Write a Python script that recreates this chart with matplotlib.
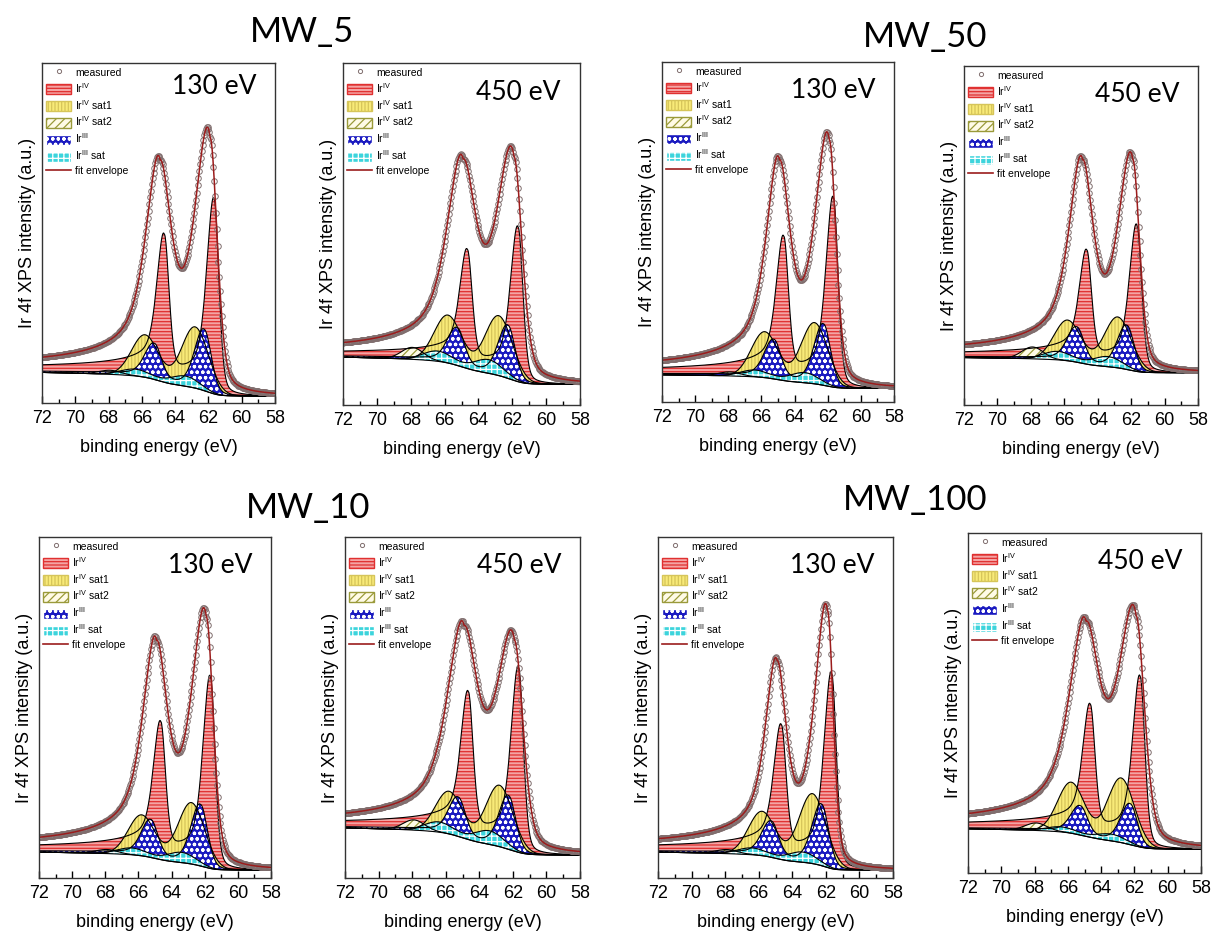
import numpy as np
import matplotlib.pyplot as plt
from matplotlib.patches import Patch
from matplotlib.lines import Line2D

plt.rcParams['font.family'] = ['Liberation Sans', 'DejaVu Sans']
plt.rcParams['mathtext.default'] = 'regular'
plt.rcParams['hatch.linewidth'] = 0.9

samples = ["MW_5", "MW_50", "MW_10", "MW_100"]
photon_energies = ["130 eV", "450 eV"]

# component binding energies (eV): [4f7/2, 4f5/2]
pos_ir4 = [61.65, 64.65]
pos_ir4_sat1 = [62.8, 65.8]
pos_ir4_sat2 = [64.9, 67.9]
pos_ir3 = [62.25, 65.25]
pos_ir3_sat = [63.4, 66.4]
pos_meas = [61.9, 64.9]

# panel order: MW_5 130, MW_5 450, MW_50 130, MW_50 450,
#              MW_10 130, MW_10 450, MW_100 130, MW_100 450
# measured signal above background (peak heights, axes fraction) and peak width factor
meas_height = [[0.73, 0.56], [0.63, 0.52], [0.705, 0.565], [0.605, 0.53],
               [0.715, 0.555], [0.59, 0.535], [0.74, 0.505], [0.65, 0.535]]
meas_width = [0.93, 1.05, 0.87, 0.88, 0.9, 1.1, 0.75, 1.1]
# fit components, heights above background
h_ir4 = [[0.57, 0.40], [0.45, 0.32], [0.555, 0.39], [0.43, 0.31],
         [0.56, 0.37], [0.54, 0.40], [0.57, 0.36], [0.50, 0.36]]
h_ir4_sat1 = [[0.18, 0.125], [0.175, 0.14], [0.18, 0.135], [0.15, 0.12],
              [0.18, 0.12], [0.18, 0.125], [0.205, 0.13], [0.19, 0.15]]
h_ir4_sat2 = [[0.0, 0.012], [0.0, 0.035], [0.0, 0.012], [0.0, 0.035],
              [0.0, 0.012], [0.0, 0.03], [0.0, 0.012], [0.0, 0.022]]
h_ir3 = [[0.18, 0.10], [0.155, 0.105], [0.18, 0.11], [0.13, 0.10],
         [0.18, 0.105], [0.157, 0.11], [0.18, 0.10], [0.12, 0.082]]
h_ir3_sat = [[0.03, 0.02], [0.04, 0.03], [0.03, 0.02], [0.03, 0.025],
             [0.03, 0.02], [0.04, 0.03], [0.03, 0.02], [0.02, 0.015]]
# background level at 58 eV and at 72 eV
bg_low = [0.02, 0.06, 0.04, 0.095, 0.023, 0.067, 0.023, 0.07]
bg_high = [0.09, 0.14, 0.08, 0.14, 0.076, 0.147, 0.076, 0.13]

# axes boxes in pixels: left, right, top, bottom
boxes = [(42, 275, 63, 403), (343, 580, 63, 405), (662, 894, 62, 402), (964, 1198, 66, 405),
         (39, 271, 537, 878), (345, 580, 537, 878), (658, 893, 537, 878), (968, 1201, 533, 873)]
W, H = 1211, 936

c_ir4, hc_ir4 = '#f4a4a4', '#e03030'
c_sat1, hc_sat1 = '#f8ea78', '#d6c55a'
c_sat2, hc_sat2 = '#fffbe6', '#9a9a3a'
c_ir3 = '#1a1ac0'
c_ir3s = '#3cd4dc'
c_env = '#9b1c1c'
c_meas = '#806e6e'


def peak(x, x0, h, w_lo, w_hi, mix, tail=0.0, mix_lo=None):
    d = x - x0
    w = np.where(d < 0, w_lo, w_hi)
    m = np.where(d < 0, mix if mix_lo is None else mix_lo, mix)
    u = (d / w) ** 2
    y = (1 - m) * np.exp(-np.log(2) * u) + m / (1 + u)
    y = y + np.where(d > 0, tail * (1 - np.exp(-d / 0.4)) / (1 + d / 1.5), 0)
    return h * y


def doublet(x, pos, h, **kw):
    return peak(x, pos[0], h[0], **kw) + peak(x, pos[1], h[1], **kw)


fig = plt.figure(figsize=(W / 100, H / 100), dpi=100)

x = np.arange(58, 72.0001, 0.025)
for i in range(8):
    l, r, t, b = boxes[i]
    ax = fig.add_axes([l / W, 1 - b / H, (r - l) / W, (b - t) / H])

    wf = meas_width[i]
    signal = (peak(x, pos_meas[0], meas_height[i][0], 0.55 * wf, 1.1 * wf, 0.6, tail=0.18, mix_lo=0.35)
              + peak(x, pos_meas[1], meas_height[i][1], 0.85 * wf, 1.0 * wf, 0.6, tail=0.18))
    # Shirley-type background
    cum = np.concatenate([[0], np.cumsum((signal[1:] + signal[:-1]) / 2)])
    bg = bg_low[i] + (bg_high[i] - bg_low[i]) * cum / cum[-1]
    env = bg + signal

    ir4 = doublet(x, pos_ir4, h_ir4[i], w_lo=0.33, w_hi=0.5, mix=0.45, tail=0.15, mix_lo=0.3)
    sat1 = doublet(x, pos_ir4_sat1, h_ir4_sat1[i], w_lo=0.95, w_hi=0.95, mix=0.0)
    sat2 = doublet(x, pos_ir4_sat2, h_ir4_sat2[i], w_lo=0.75, w_hi=0.75, mix=0.0)
    ir3 = doublet(x, pos_ir3, h_ir3[i], w_lo=0.5, w_hi=0.65, mix=0.2, tail=0.08)
    ir3s = doublet(x, pos_ir3_sat, h_ir3_sat[i], w_lo=1.0, w_hi=1.0, mix=0.0)

    ax.fill_between(x, bg, bg + ir4, facecolor=c_ir4, edgecolor=hc_ir4, hatch='-----', lw=0)
    ax.fill_between(x, bg, bg + sat1, facecolor=c_sat1, edgecolor=hc_sat1, hatch='|||||', lw=0)
    ax.fill_between(x, bg, bg + sat2, facecolor=c_sat2, edgecolor=hc_sat2, hatch='////', lw=0)
    ax.fill_between(x, bg, bg + ir3, facecolor=c_ir3, edgecolor='white', hatch='ooo', lw=0)
    ax.fill_between(x, bg, bg + ir3s, facecolor=c_ir3s, edgecolor='white', hatch='+++', lw=0)
    for comp in [ir4, sat1, sat2, ir3, ir3s]:
        ax.plot(x, bg + comp, color='black', lw=0.8)
    ax.plot(x, bg, color='black', lw=0.8)

    ax.plot(x[::2], env[::2], ls='none', marker='o', ms=4, mfc='none', mec=c_meas, mew=0.7)
    ax.plot(x, env, color=c_env, lw=1.1)

    ax.set_xlim(72, 58)
    ax.set_ylim(0, 1)
    ax.set_xticks(np.arange(72, 57, -2))
    ax.set_xticks(np.arange(72, 57, -1), minor=True)
    ax.set_yticks([])
    ax.tick_params(axis='x', which='major', direction='in', length=5, width=1, labelsize=13, pad=5)
    ax.tick_params(axis='x', which='minor', direction='in', length=3, width=1)
    for s in ax.spines.values():
        s.set_color('#333333')
        s.set_linewidth(1.0)
    ax.set_xlabel('binding energy (eV)', fontsize=13, labelpad=9)
    ax.set_ylabel('Ir 4f XPS intensity (a.u.)', fontsize=13, labelpad=4)

    ax.text(0.74, 0.93 if i == 0 else 0.915, photon_energies[i % 2], transform=ax.transAxes,
            ha='center', va='center', fontsize=19, family=['Lato', 'DejaVu Sans'])

    handles = [
        Line2D([], [], ls='none', marker='o', ms=3, mfc='none', mec=c_meas, mew=0.7),
        Patch(facecolor=c_ir4, edgecolor=hc_ir4, hatch='-----'),
        Patch(facecolor=c_sat1, edgecolor=hc_sat1, hatch='|||||'),
        Patch(facecolor=c_sat2, edgecolor=hc_sat2, hatch='////'),
        Patch(facecolor=c_ir3, edgecolor='white', hatch='ooo'),
        Patch(facecolor=c_ir3s, edgecolor='white', hatch='+++'),
        Line2D([], [], color=c_env, lw=1.2),
    ]
    labels = ['measured', 'Ir$^{IV}$', 'Ir$^{IV}$ sat1', 'Ir$^{IV}$ sat2',
              'Ir$^{III}$', 'Ir$^{III}$ sat', 'fit envelope']
    ax.legend(handles, labels, loc='upper left', bbox_to_anchor=(0, 1), frameon=False,
              fontsize=7.5, handlelength=2.4, handleheight=1.1, labelspacing=0.3,
              handletextpad=0.4, borderpad=0.2, borderaxespad=0.2)

titles_xy = [(302, 32), (925, 37), (308, 508), (915, 500)]
for name, (tx, ty) in zip(samples, titles_xy):
    fig.text(tx / W, 1 - ty / H, name, ha='center', va='center', fontsize=25,
             family=['Lato', 'DejaVu Sans'])

fig.savefig('out.png', dpi=100, facecolor='white')
